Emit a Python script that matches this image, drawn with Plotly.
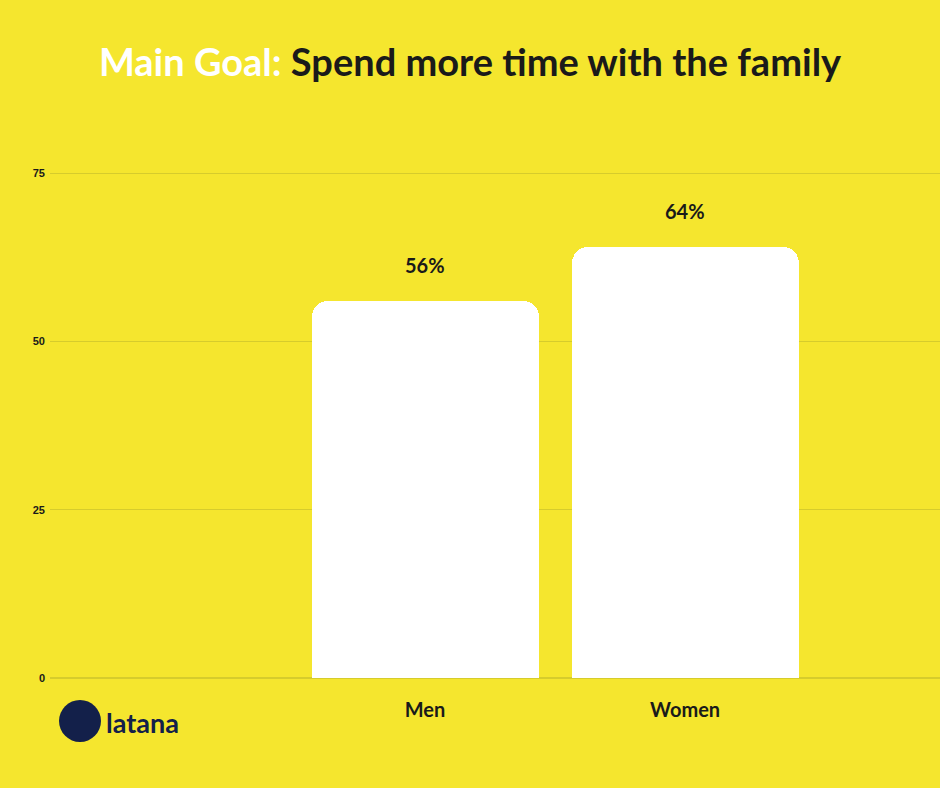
import plotly.graph_objects as go

categories = ["Men", "Women"]
values = [56, 64]
labels = ["56%", "64%"]
tick_vals = [0, 25, 50, 75]

BG = "#f5e62e"
DARK = "#1a1a1a"
GRID = "#d6cc2c"

fig = go.Figure(go.Bar(
    x=categories, y=values,
    marker=dict(color="white", line=dict(width=0), cornerradius=16),
    width=0.873, hoverinfo="skip",
))

for cat, val, lab in zip(categories, values, labels):
    fig.add_annotation(x=cat, y=val, text=lab, showarrow=False, yanchor="bottom",
                       yshift=22, font=dict(family="Lato", size=20, color=DARK, weight="bold"))

fig.update_layout(
    width=940, height=788, paper_bgcolor=BG, plot_bgcolor=BG,
    margin=dict(l=50, r=0, t=173 - 26, b=110),
    showlegend=False, bargap=0,
    title=dict(
        text="<span style='color:white'>Main Goal:</span> Spend more time with the family",
        x=0.5, xanchor="center", y=0.921, yanchor="middle",
        font=dict(family="Lato", size=38, color=DARK, weight="bold"),
    ),
    xaxis=dict(type="category", range=[-1.442, 1.98], showgrid=False,
               tickfont=dict(family="Lato", size=20, color=DARK, weight="bold"),
               ticks="", ticklabelstandoff=18),
    yaxis=dict(range=[0, 78.9], tickvals=tick_vals, gridcolor=GRID,
               gridwidth=1.2, zeroline=True, zerolinecolor=GRID,
               tickfont=dict(family="Liberation Sans", size=11, color=DARK, weight="bold"),
               ticks="", ticklabelstandoff=4),
)

# logo
fig.add_shape(type="circle", xref="paper", yref="paper",
              xsizemode="pixel", ysizemode="pixel",
              xanchor=(80 - 50) / 890, yanchor=(678 - 721) / 531,
              x0=-21, x1=21, y0=-21, y1=21,
              fillcolor="#13204a", line=dict(width=0))
fig.add_annotation(text="latana", xref="paper", yref="paper",
                   x=(104 - 50) / 890, y=(678 - 722) / 531, xanchor="left", yanchor="middle",
                   showarrow=False, font=dict(family="Lato", size=27, color="#13204a", weight="bold"))

fig.write_html("out.html", config={"displayModeBar": False},
               post_script="document.body.style.margin='0';")
